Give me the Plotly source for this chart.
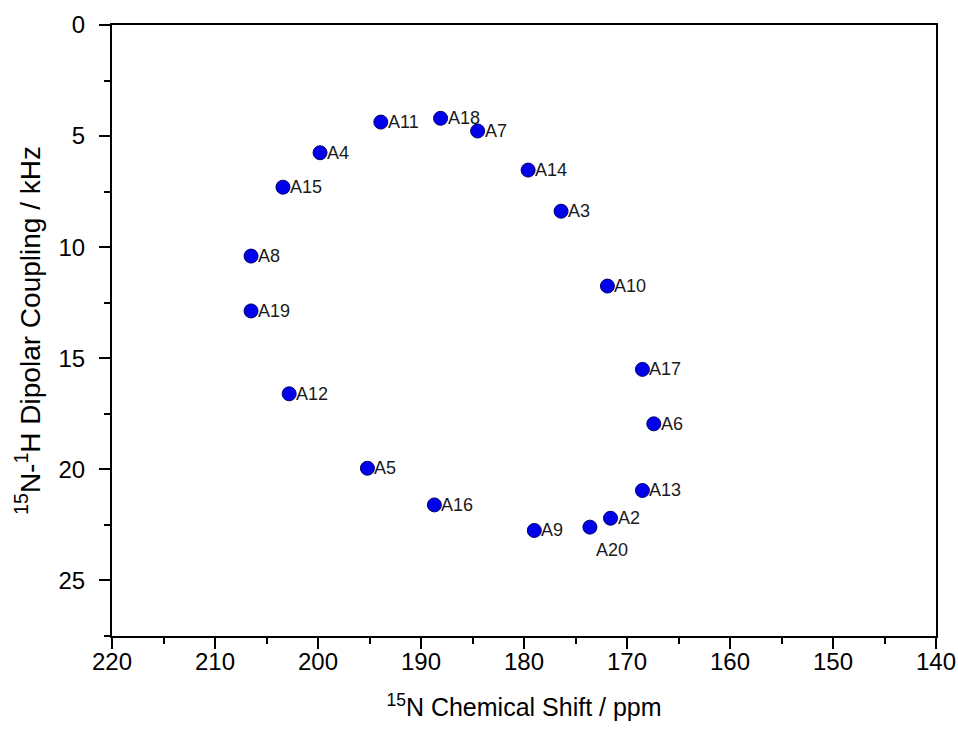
import plotly.graph_objects as go

# Amide residues: 15N chemical shift (ppm) and 15N-1H dipolar coupling (kHz)
labels = ["A11", "A18", "A7", "A4", "A14", "A15", "A3", "A8", "A10", "A19",
          "A17", "A12", "A6", "A5", "A13", "A16", "A2", "A20", "A9"]
shift_ppm = [193.9, 188.1, 184.5, 199.8, 179.6, 203.4, 176.4, 206.5, 171.9, 206.5,
             168.5, 202.8, 167.4, 195.2, 168.5, 188.7, 171.6, 173.6, 179.0]
coupling_khz = [4.37, 4.20, 4.77, 5.75, 6.53, 7.30, 8.38, 10.4, 11.75, 12.87,
                15.5, 16.6, 17.95, 19.95, 20.95, 21.6, 22.2, 22.6, 22.75]

x_ticks = [220, 210, 200, 190, 180, 170, 160, 150, 140]
y_ticks = [0, 5, 10, 15, 20, 25]

FONT = "Liberation Sans, Arial, sans-serif"

fig = go.Figure(
    go.Scatter(
        x=shift_ppm,
        y=coupling_khz,
        mode="markers",
        marker=dict(size=14, color="rgb(0,0,235)",
                    line=dict(width=1, color="#00006e")),
        hoverinfo="x+y",
    )
)

# residue labels: to the right of each point, A20 sits below-right
for name, xv, yv in zip(labels, shift_ppm, coupling_khz):
    if name == "A20":
        fig.add_annotation(x=xv, y=yv, text=name, showarrow=False,
                           xanchor="center", yanchor="middle",
                           xshift=22, yshift=-23,
                           font=dict(family=FONT, size=18, color="#1a1a1a"))
    else:
        fig.add_annotation(x=xv, y=yv, text=name, showarrow=False,
                           xanchor="left", yanchor="middle", xshift=5,
                           font=dict(family=FONT, size=18, color="#1a1a1a"))

axis_common = dict(
    showline=True, linewidth=2, linecolor="black", mirror=True,
    ticks="outside", ticklen=11, tickwidth=2, tickcolor="black",
    showgrid=False, zeroline=False, automargin=False,
    tickfont=dict(family=FONT, size=24, color="black"),
)

fig.update_xaxes(
    range=[220, 140], tickvals=x_ticks,
    minor=dict(ticks="outside", ticklen=6, tickwidth=2, tickcolor="black", dtick=5),
    ticklabelstandoff=-8,
    title=dict(text="<sup>15</sup>N Chemical Shift / ppm",
               font=dict(family=FONT, size=25, color="black"), standoff=25),
    **axis_common,
)
fig.update_yaxes(
    range=[27.5, 0], tickvals=y_ticks,
    minor=dict(ticks="outside", ticklen=6, tickwidth=2, tickcolor="black", dtick=2.5),
    ticklabelstandoff=9,
    title=dict(text="<sup>15</sup>N-<sup>1</sup>H Dipolar Coupling / kHz",
               font=dict(family=FONT, size=28, color="black"), standoff=10),
    **axis_common,
)

fig.update_layout(
    width=958, height=735,
    margin=dict(l=112, r=22, t=25, b=99),
    paper_bgcolor="white", plot_bgcolor="white",
    showlegend=False,
)

fig.write_html("out.html")
